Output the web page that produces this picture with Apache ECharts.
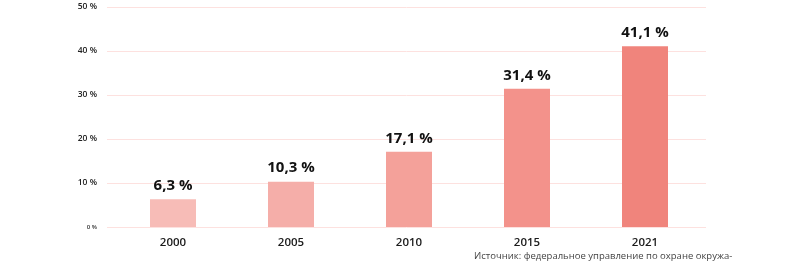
<!DOCTYPE html>
<html>
<head>
<meta charset="utf-8">
<script src="https://cdn.jsdelivr.net/npm/echarts@6/dist/echarts.min.js"></script>
<style>html,body{margin:0;padding:0;background:#fff}#c{width:798px;height:265px}</style>
</head>
<body>
<div id="c"></div>
<script>
var categories = ['2000', '2005', '2010', '2015', '2021'];
var values = [6.3, 10.3, 17.1, 31.4, 41.1];
var barColors = ['#f7bcb7', '#f5aea9', '#f4a19a', '#f3928b', '#f0847c'];
var yTicks = [0, 10, 20, 30, 40, 50];
var sourceText = 'Источник: федеральное управление по охране окружа-';

var chart = echarts.init(document.getElementById('c'), null, {renderer: 'canvas'});
chart.setOption({
  animation: false,
  grid: [
    {left: 107, right: 92, top: 7, bottom: 38},
    {left: 114, right: 94, top: 7, bottom: 38}
  ],
  xAxis: [{
    gridIndex: 0, type: 'value', min: 0, max: 1, show: false
  }, {
    gridIndex: 1,
    type: 'category',
    data: categories,
    axisLine: {show: false},
    axisTick: {show: false},
    axisLabel: {color: '#1a1a1a', fontSize: 11.5, fontWeight: 600, fontFamily: 'Open Sans', margin: 10}
  }],
  yAxis: [{
    gridIndex: 0,
    type: 'value',
    min: yTicks[0], max: yTicks[yTicks.length - 1], interval: 10,
    axisLine: {show: false},
    axisTick: {show: false},
    splitLine: {lineStyle: {color: '#fde1df', width: 1}},
    axisLabel: {
      margin: 10,
      formatter: function (v) { return v === 0 ? '{z|0 %}' : '{n|' + v + ' %}'; },
      rich: {
        n: {fontSize: 8.5, color: '#222', fontWeight: 600, fontFamily: 'Open Sans'},
        z: {fontSize: 6, color: '#333', fontWeight: 600, fontFamily: 'Open Sans'}
      }
    }
  }, {
    gridIndex: 1,
    type: 'value',
    min: yTicks[0], max: yTicks[yTicks.length - 1], interval: 10,
    show: false,
    splitLine: {show: false}
  }],
  graphic: [{
    type: 'text',
    left: 474, top: 251,
    style: {text: sourceText, fill: '#444', font: '500 9.5px "Open Sans"'}
  }],
  series: [{
    type: 'bar',
    xAxisIndex: 1,
    yAxisIndex: 1,
    barWidth: 46,
    data: values.map(function (v, i) { return {value: v, itemStyle: {color: barColors[i]}}; }),
    label: {
      show: true,
      position: 'top',
      distance: 6,
      color: '#111',
      fontSize: 15,
      fontWeight: 'bold',
      fontFamily: 'Open Sans',
      formatter: function (p) { return String(p.value).replace('.', ',') + ' %'; }
    }
  }]
});
</script>
</body>
</html>
